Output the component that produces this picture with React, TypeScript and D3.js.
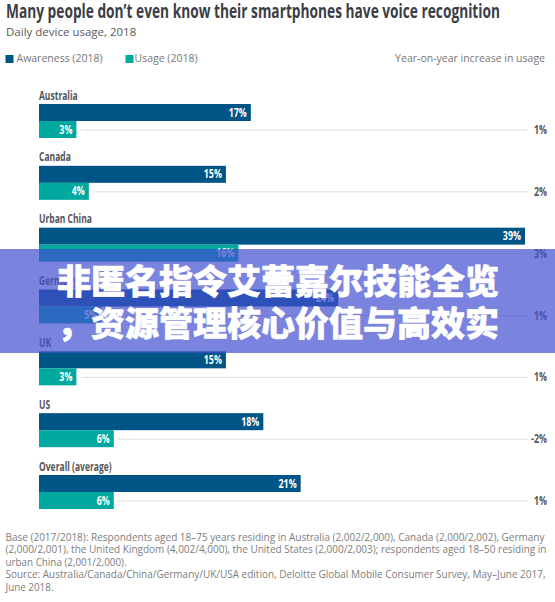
import React from "react";
import * as d3 from "d3";

const categories = ["Australia", "Canada", "Urban China", "Germany", "UK", "US", "Overall (average)"];
const awareness = [17, 15, 39, 24, 15, 18, 21];
const usage = [3, 4, 16, 5, 3, 6, 6];
const yoyLabels = ["1%", "2%", "3%", "1%", "1%", "-2%", "1%"];
const footerLines = [
  "Base (2017/2018): Respondents aged 18–75 years residing in Australia (2,002/2,000), Canada (2,000/2,002), Germany",
  "(2,000/2,001), the United Kingdom (4,002/4,000), the United States (2,000/2,003); respondents aged 18–50 residing in",
  "urban China (2,001/2,000).",
  "Source: Australia/Canada/China/Germany/UK/USA edition, Deloitte Global Mobile Consumer Survey, May–June 2017,",
  "June 2018.",
];
const footerWidths = [539, 541, 121, 540, 48];
const overlayLines = ["非匿名指令艾蕾嘉尔技能全览", "，资源管理核心价值与高效实"];

const DARK = "#005587";
const TEAL = "#00a8a0";
const SANS = "'Open Sans', sans-serif";
const CJK = "'Noto Sans CJK SC', sans-serif";
const SQUEEZE = 0.74;

function Narrow(props: { x: number; y: number; anchor?: string; size: number; fill: string; children: React.ReactNode }) {
  return (
    <text
      transform={`translate(${props.x},${props.y}) scale(${SQUEEZE},1)`}
      textAnchor={props.anchor ?? "start"}
      fontFamily={SANS}
      fontWeight={700}
      fontSize={props.size}
      fill={props.fill}
    >
      {props.children}
    </text>
  );
}

export default function App() {
  const x = d3.scaleLinear().domain([0, 39]).range([39, 525]);
  const rowY = d3.scaleLinear().domain([0, 6]).range([104, 475]);
  const barH = 17;
  return (
    <svg
      width={555}
      height={602}
      viewBox="0 0 555 602"
      style={{ position: "absolute", left: 0, top: 0, display: "block", background: "#fff" }}
    >
      <text x={6} y={18} fontFamily={SANS} fontWeight={700} fontSize={20} fill="#3b3e47" textLength={494} lengthAdjust="spacingAndGlyphs">
        Many people don’t even know their smartphones have voice recognition
      </text>
      <text x={6} y={36} fontFamily={SANS} fontSize={11.5} fill="#5a5a5a">Daily device usage, 2018</text>

      <rect x={5.5} y={55} width={8} height={8} fill={DARK} />
      <text x={16.5} y={62} fontFamily={SANS} fontSize={10.5} fill="#777">Awareness (2018)</text>
      <rect x={125.5} y={55} width={8} height={8} fill={TEAL} />
      <text x={134.5} y={62} fontFamily={SANS} fontSize={10.5} fill="#777">Usage (2018)</text>
      <text x={545} y={62} textAnchor="end" fontFamily={SANS} fontSize={10.5} fill="#777">Year-on-year increase in usage</text>

      {categories.map((c, i) => {
        const top = rowY(i);
        return (
          <g key={c}>
            <Narrow x={39} y={top - 4.5} size={11.5} fill="#55565c">{c}</Narrow>
            <rect x={x(0)} y={top} width={x(awareness[i]) - x(0)} height={barH} fill={DARK} />
            <rect x={x(0)} y={top + barH} width={x(usage[i]) - x(0)} height={barH} fill={TEAL} />
            <Narrow x={x(awareness[i]) - 4} y={top + 12.5} anchor="end" size={12} fill="#fff">{awareness[i]}%</Narrow>
            <Narrow x={x(usage[i]) - 4} y={top + barH + 12.5} anchor="end" size={12} fill="#fff">{usage[i]}%</Narrow>
            <line
              x1={x(usage[i]) + 5}
              x2={527.5}
              y1={top + barH + 9}
              y2={top + barH + 9}
              stroke="#aaa"
              strokeWidth={0.8}
              strokeDasharray="1 1"
            />
            <Narrow x={547} y={top + barH + 13} anchor="end" size={12} fill="#55565c">{yoyLabels[i]}</Narrow>
          </g>
        );
      })}

      {footerLines.map((l, i) => (
        <text
          key={i}
          x={5.5}
          y={541 + i * 12.4}
          fontFamily={SANS}
          fontSize={10}
          fill="#7d7d7d"
          textLength={footerWidths[i]}
          lengthAdjust="spacingAndGlyphs"
        >
          {l}
        </text>
      ))}

      <rect x={0} y={249} width={555} height={104} fill="rgb(65,78,206)" fillOpacity={0.7} />
      {overlayLines.map((l, i) => (
        <text
          key={i}
          x={278}
          y={294 + i * 42}
          textAnchor="middle"
          fontFamily={CJK}
          fontWeight={900}
          fontSize={34}
          fill="#fff"
          stroke="#fff"
          strokeWidth={0.6}
        >
          {l}
        </text>
      ))}
    </svg>
  );
}
